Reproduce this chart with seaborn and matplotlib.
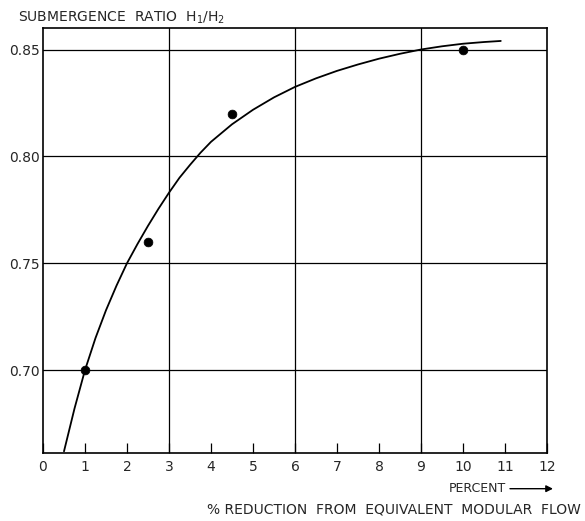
import matplotlib
matplotlib.use("Agg")
import matplotlib.pyplot as plt
import seaborn as sns
import pandas as pd

# Data
point_x = [1.0, 2.5, 4.5, 10.0]
point_y = [0.700, 0.760, 0.820, 0.850]

curve_x = [0.5, 0.75, 1.0, 1.25, 1.5, 1.75, 2.0, 2.25, 2.5, 2.75, 3.0, 3.25, 3.5, 3.75,
           4.0, 4.5, 5.0, 5.5, 6.0, 6.5, 7.0, 7.5, 8.0, 8.5, 9.0, 9.5, 10.0, 10.5, 10.9]
curve_y = [0.662, 0.682, 0.700, 0.715, 0.728, 0.7395, 0.750, 0.759, 0.7675, 0.7755,
           0.783, 0.790, 0.796, 0.8017, 0.8068, 0.8150, 0.8218, 0.8276, 0.8325,
           0.8365, 0.840, 0.843, 0.8457, 0.848, 0.850, 0.8515, 0.8527, 0.8535, 0.854]

x_ticks = list(range(0, 13))
y_ticks = [0.70, 0.75, 0.80, 0.85]
y_labels = ["0.70", "0.75", "0.80", "0.85"]

sns.set_theme(style="white")
plt.rcParams['font.family'] = ['DejaVu Sans']

fig = plt.figure(figsize=(5.85, 5.21), dpi=100)
ax = fig.add_axes([0.0735, 0.1305, 0.8615, 0.8155])

curve_df = pd.DataFrame({"x": curve_x, "y": curve_y})
pts_df = pd.DataFrame({"x": point_x, "y": point_y})

sns.lineplot(data=curve_df, x="x", y="y", sort=False, color="black", linewidth=1.3, ax=ax)
sns.scatterplot(data=pts_df, x="x", y="y", color="black", s=40, edgecolor="black", zorder=5, ax=ax)

ax.set_xlim(0, 12)
ax.set_ylim(0.6612, 0.860)

ax.set_xticks(x_ticks)
ax.set_xticklabels([str(t) for t in x_ticks], fontsize=10)
ax.set_yticks(y_ticks)
ax.set_yticklabels(y_labels, fontsize=10)

# gridlines
for gx in [3, 6, 9]:
    ax.axvline(gx, color="black", linewidth=0.9, zorder=1)
for gy in y_ticks:
    ax.axhline(gy, color="black", linewidth=0.9, zorder=1)

ax.tick_params(axis="x", direction="in", length=7, width=0.9, color="black", pad=5, bottom=True)
ax.tick_params(axis="y", direction="in", length=0, pad=2, left=True)

for sp in ax.spines.values():
    sp.set_color("black")
    sp.set_linewidth(1.2)

ax.set_xlabel("")
ax.set_ylabel("")

fig.text(0.03, 0.965, "SUBMERGENCE  RATIO  H$_1$/H$_2$", fontsize=10, ha="left", va="center")
fig.text(0.865, 0.062, "PERCENT", fontsize=9, ha="right", va="center")
ax.annotate("", xy=(0.95, 0.062), xytext=(0.867, 0.062), xycoords="figure fraction",
            arrowprops=dict(arrowstyle="-|>", color="black", lw=1.0, mutation_scale=10))
fig.text(0.993, 0.022, "% REDUCTION  FROM  EQUIVALENT  MODULAR  FLOW", fontsize=10, ha="right", va="center")

fig.savefig("out.png", dpi=100)
